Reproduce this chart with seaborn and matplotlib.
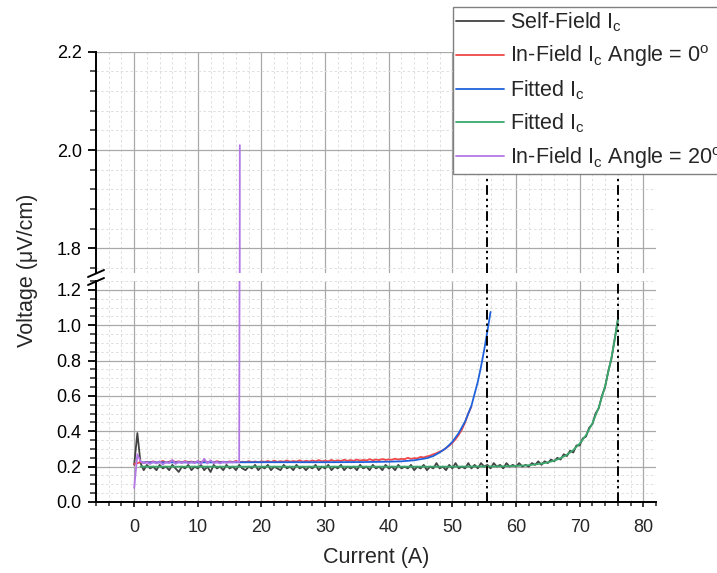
import numpy as np
import pandas as pd
import matplotlib
matplotlib.use("Agg")
import matplotlib.pyplot as plt
from matplotlib.ticker import MultipleLocator, FormatStrFormatter
from matplotlib.lines import Line2D
import seaborn as sns

# ---------------- data ----------------
# Self-field sweep, current steps of 0.5 A from 0 to 76 A
self_current = np.arange(0, 76.01, 0.5)
self_voltage = [
    0.21, 0.39, 0.22, 0.18, 0.21, 0.19, 0.20, 0.18, 0.21, 0.19,
    0.20, 0.18, 0.21, 0.19, 0.17, 0.20, 0.19, 0.21, 0.18, 0.20,
    0.19, 0.21, 0.18, 0.20, 0.17, 0.21, 0.19, 0.20, 0.18, 0.21,
    0.19, 0.20, 0.18, 0.21, 0.19, 0.18, 0.20, 0.19, 0.21, 0.18,
    0.20, 0.19, 0.21, 0.18, 0.20, 0.19, 0.18, 0.21, 0.19, 0.20,
    0.18, 0.21, 0.19, 0.20, 0.18, 0.20, 0.19, 0.21, 0.18, 0.20,
    0.19, 0.21, 0.18, 0.20, 0.19, 0.21, 0.18, 0.20, 0.19, 0.20,
    0.18, 0.21, 0.19, 0.20, 0.18, 0.21, 0.19, 0.20, 0.18, 0.21,
    0.19, 0.20, 0.18, 0.21, 0.19, 0.20, 0.19, 0.21, 0.18, 0.20,
    0.19, 0.21, 0.18, 0.20, 0.19, 0.22, 0.19, 0.20, 0.18, 0.21,
    0.19, 0.22, 0.19, 0.20, 0.19, 0.22, 0.19, 0.21, 0.19, 0.22,
    0.20, 0.21, 0.19, 0.22, 0.20, 0.21, 0.19, 0.22, 0.20, 0.21,
    0.20, 0.22, 0.20, 0.21, 0.20, 0.22, 0.21, 0.23, 0.21, 0.23,
    0.22, 0.24, 0.23, 0.25, 0.24, 0.27, 0.26, 0.29, 0.28, 0.32,
    0.32, 0.36, 0.37, 0.42, 0.44, 0.50, 0.53, 0.60, 0.65, 0.74,
    0.81, 0.92, 1.03,
]

# In-field sweep at 0 degrees, 0.5 A steps from 0 to 53 A
field0_current = np.arange(0, 53.01, 0.5)
field0_voltage = [
    0.215, 0.220, 0.225, 0.222, 0.228, 0.224, 0.230, 0.222, 0.226, 0.232,
    0.224, 0.228, 0.235, 0.226, 0.230, 0.224, 0.232, 0.226, 0.229, 0.224,
    0.230, 0.226, 0.233, 0.225, 0.229, 0.224, 0.231, 0.226, 0.228, 0.224,
    0.230, 0.226, 0.233, 0.224, 0.228, 0.225, 0.231, 0.226, 0.229, 0.225,
    0.230, 0.227, 0.232, 0.226, 0.234, 0.227, 0.231, 0.228, 0.235, 0.228,
    0.232, 0.229, 0.236, 0.228, 0.233, 0.229, 0.235, 0.230, 0.237, 0.230,
    0.234, 0.230, 0.238, 0.231, 0.236, 0.232, 0.239, 0.233, 0.237, 0.233,
    0.240, 0.234, 0.238, 0.235, 0.242, 0.236, 0.240, 0.237, 0.243, 0.238,
    0.241, 0.239, 0.245, 0.240, 0.244, 0.242, 0.250, 0.244, 0.248, 0.247,
    0.255, 0.252, 0.258, 0.262, 0.270, 0.276, 0.285, 0.292, 0.305, 0.318,
    0.335, 0.355, 0.380, 0.410, 0.450, 0.500, 0.540,
]

# Fitted curve for the 0 degree in-field data
fit0_current = [1.2, 10, 20, 30, 36, 40, 42, 44, 46, 47, 48, 49, 50,
                51, 52, 53, 54, 54.5, 55, 55.5, 56]
fit0_voltage = [0.224, 0.224, 0.225, 0.225, 0.226, 0.228, 0.230, 0.236,
                0.248, 0.260, 0.280, 0.305, 0.340, 0.390, 0.455, 0.545,
                0.680, 0.765, 0.860, 0.965, 1.075]

# Fitted curve for the self-field data
fitsf_current = [1.0, 10, 20, 30, 40, 50, 55, 58, 60, 62, 64, 65, 66, 67,
                 68, 69, 70, 71, 72, 73, 74, 75, 75.5, 76]
fitsf_voltage = [0.200, 0.200, 0.200, 0.200, 0.200, 0.200, 0.201, 0.202,
                 0.204, 0.208, 0.217, 0.224, 0.234, 0.248, 0.267, 0.294,
                 0.330, 0.378, 0.445, 0.534, 0.655, 0.816, 0.916, 1.031]

# In-field sweep at 20 degrees (quench at ~16.6 A)
field20_current = list(np.arange(0, 16.51, 0.5)) + [16.6]
field20_voltage = [
    0.080, 0.270, 0.230, 0.220, 0.225, 0.215, 0.228, 0.218, 0.230, 0.212,
    0.226, 0.220, 0.238, 0.215, 0.228, 0.220, 0.230, 0.218, 0.226, 0.220,
    0.232, 0.214, 0.244, 0.218, 0.236, 0.220, 0.226, 0.218, 0.228, 0.222,
    0.226, 0.224, 0.228, 0.226, 2.010,
]

# Critical currents marked with vertical lines
critical_currents = [55.5, 76.0]

series = [
    ("Self-Field I$_\\mathrm{c}$", self_current, self_voltage, "#424242"),
    ("In-Field I$_\\mathrm{c}$ Angle = 0$^\\mathrm{o}$", field0_current, field0_voltage, "#f04848"),
    ("Fitted I$_\\mathrm{c}$", fit0_current, fit0_voltage, "#1f62dc"),
    ("Fitted I$_\\mathrm{c}$", fitsf_current, fitsf_voltage, "#3aa86c"),
    ("In-Field I$_\\mathrm{c}$ Angle = 20$^\\mathrm{o}$", field20_current, field20_voltage, "#b477e6"),
]

# ---------------- style ----------------
sns.set_style("white")
plt.rcParams["font.family"] = ["Liberation Sans", "DejaVu Sans"]
plt.rcParams["mathtext.fontset"] = "custom"
plt.rcParams["mathtext.rm"] = "Liberation Sans"
plt.rcParams["mathtext.it"] = "Liberation Sans:italic"
plt.rcParams["mathtext.bf"] = "Liberation Sans:bold"

W_PX, H_PX = 717, 573
fig = plt.figure(figsize=(W_PX / 100, H_PX / 100), dpi=100)
fig.patch.set_facecolor("white")

left = 96 / W_PX
width = (656 - 96) / W_PX
ax_lo = fig.add_axes([left, (H_PX - 502) / H_PX, width, (502 - 281) / H_PX])
ax_hi = fig.add_axes([left, (H_PX - 273) / H_PX, width, (273 - 51.7) / H_PX])

for ax in (ax_lo, ax_hi):
    for i, (label, x, y, color) in enumerate(series):
        df = pd.DataFrame({"Current (A)": x, "Voltage": y})
        sns.lineplot(data=df, x="Current (A)", y="Voltage", ax=ax, color=color,
                     lw=1.3, sort=False, estimator=None,
                     label=label if ax is ax_lo else None, zorder=3 + i)
    if ax.get_legend() is not None:
        ax.get_legend().remove()
    for ic in critical_currents:
        ax.axvline(ic, color="black", lw=1.4, ls=(0, (5, 2, 1.2, 2, 1.2, 2)), zorder=10)

    ax.set_xlim(-6, 82)
    ax.set_xlabel("")
    ax.set_ylabel("")
    ax.xaxis.set_major_locator(MultipleLocator(10))
    ax.xaxis.set_minor_locator(MultipleLocator(2))
    ax.set_axisbelow(True)
    ax.grid(which="major", color="#a9a9a9", lw=0.9, ls="-")
    ax.grid(which="minor", color="#dedede", lw=0.7, ls=(0, (2.5, 2.5)))
    ax.spines["top"].set_visible(False)
    ax.spines["right"].set_visible(False)
    ax.spines["left"].set_linewidth(1.4)
    ax.spines["left"].set_color("black")
    ax.tick_params(axis="y", which="major", direction="out", length=5.8, width=1.3,
                   labelsize=13, pad=4.5, colors="black", left=True)
    ax.tick_params(axis="y", which="minor", direction="out", length=4, width=1.1, left=True)

# lower panel
ax_lo.set_ylim(0, 1.25)
ax_lo.yaxis.set_major_locator(MultipleLocator(0.2))
ax_lo.yaxis.set_minor_locator(MultipleLocator(0.05))
ax_lo.yaxis.set_major_formatter(FormatStrFormatter("%.1f"))
ax_lo.spines["bottom"].set_linewidth(1.4)
ax_lo.spines["bottom"].set_color("black")
ax_lo.tick_params(axis="x", which="major", direction="out", length=3.8, width=1.3,
                  labelsize=13, pad=8.5, bottom=True)
ax_lo.tick_params(axis="x", which="minor", direction="out", length=3, width=1.1, bottom=True)

# upper panel
ax_hi.set_ylim(1.75, 2.2)
ax_hi.yaxis.set_major_locator(MultipleLocator(0.2))
ax_hi.yaxis.set_minor_locator(MultipleLocator(0.04))
ax_hi.yaxis.set_major_formatter(FormatStrFormatter("%.1f"))
ax_hi.spines["bottom"].set_visible(False)
ax_hi.tick_params(axis="x", which="both", bottom=False, labelbottom=False)

# axis-break marks on the left spine
for yb in (273.5, 281.5):
    fig.add_artist(Line2D([88 / W_PX, 104 / W_PX],
                          [(H_PX - (yb + 3.5)) / H_PX, (H_PX - (yb - 3.5)) / H_PX],
                          color="black", lw=1.4, transform=fig.transFigure))

fig.text(376 / W_PX, (H_PX - 557) / H_PX, "Current (A)", ha="center", va="center", fontsize=15.5)
fig.text(28 / W_PX, (H_PX - 270) / H_PX, "Voltage (\u03bcV/cm)", ha="center", va="center",
         rotation=90, fontsize=15.5)

handles, labels = ax_lo.get_legend_handles_labels()
leg = fig.legend(handles, labels, loc="upper left",
                 bbox_to_anchor=(453 / W_PX, (H_PX - 7) / H_PX),
                 bbox_transform=fig.transFigure, frameon=True, fancybox=False,
                 framealpha=1, edgecolor="#808080", fontsize=15.5, handlelength=2.2,
                 handletextpad=0.3, borderpad=0.15, labelspacing=0.44, borderaxespad=0)
leg.get_frame().set_linewidth(1.0)
for h in leg.legend_handles:
    h.set_linewidth(1.3)

fig.savefig("out.png", dpi=100)
